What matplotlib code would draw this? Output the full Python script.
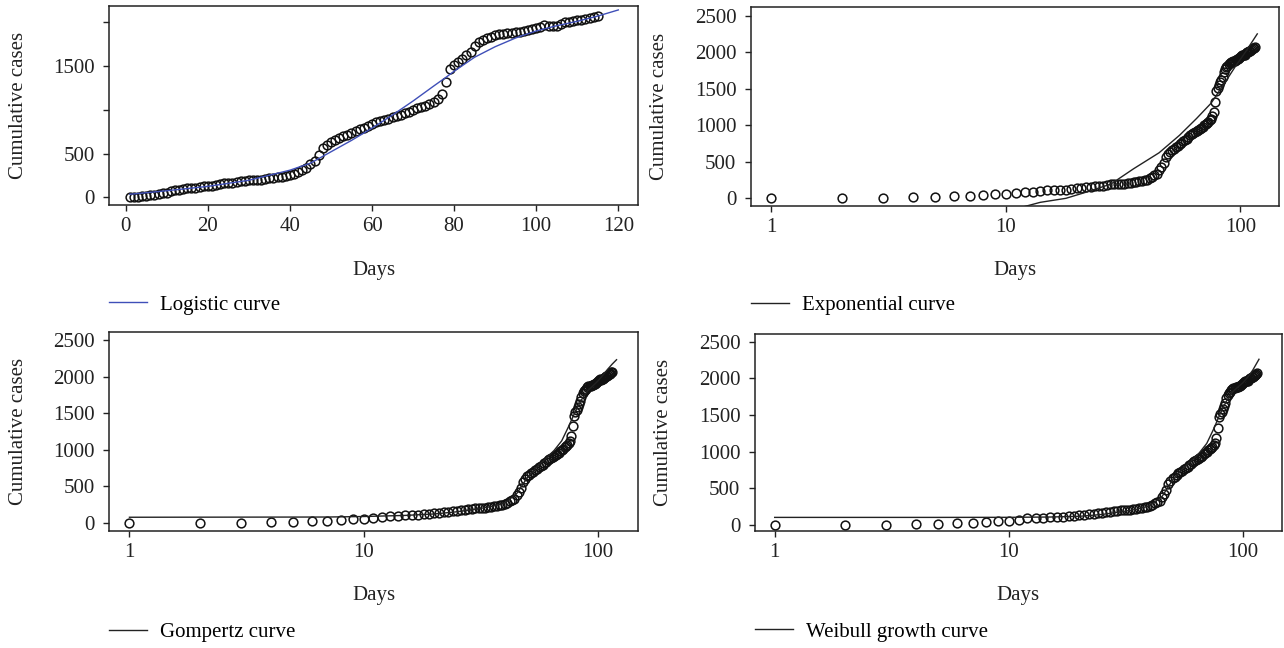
import matplotlib
matplotlib.use("Agg")
import matplotlib.pyplot as plt
from matplotlib.ticker import NullLocator

plt.rcParams['font.family'] = ['Liberation Serif', 'DejaVu Serif']

# ---------------- data ----------------
days = list(range(1, 116))
cases = [0, 0, 0, 14, 15, 23, 25, 37, 48, 50,
         70, 85, 87, 95, 105, 108, 110, 115, 125, 130,
         135, 145, 150, 158, 162, 168, 178, 188, 192, 195,
         197, 198, 203, 212, 218, 224, 230, 236, 244, 252,
         272, 292, 312, 330, 380, 420, 480, 560, 600, 635,
         655, 675, 700, 715, 735, 760, 775, 790, 815, 835,
         860, 875, 885, 900, 915, 930, 945, 960, 980, 1000,
         1015, 1030, 1045, 1065, 1085, 1120, 1180, 1320, 1465, 1510,
         1545, 1585, 1620, 1665, 1725, 1770, 1800, 1815, 1835, 1855,
         1865, 1870, 1875, 1880, 1885, 1893, 1900, 1910, 1925, 1935,
         1950, 1965, 1958, 1960, 1962, 1985, 2000, 2005, 2012, 2020,
         2030, 2040, 2050, 2058, 2066]

logistic_x = [1, 10, 20, 30, 40, 45, 50, 55, 60, 65, 70, 75, 78, 80, 85, 90, 95, 100, 105, 110, 115, 120]
logistic_y = [35, 75, 125, 195, 310, 390, 520, 650, 790, 940, 1100, 1270, 1370, 1440, 1600, 1720, 1820, 1900, 1960, 2010, 2070, 2140]

expo_x = [11, 14, 18, 22, 28, 35, 45, 55, 65, 75, 85, 95, 105, 118]
expo_y = [-150, -60, -5, 80, 190, 400, 620, 860, 1090, 1300, 1560, 1800, 2000, 2250]

gomp_x = [1, 7, 10, 15, 20, 25, 30, 35, 40, 45, 50, 55, 60, 65, 70, 75, 80, 85, 90, 95, 100, 105, 110, 115, 120]
gomp_y = [75, 78, 85, 100, 120, 150, 185, 220, 270, 400, 620, 770, 880, 990, 1120, 1320, 1520, 1680, 1800, 1870, 1940, 2020, 2100, 2170, 2230]

weib_x = [1, 5, 10, 15, 20, 25, 30, 35, 40, 45, 50, 55, 60, 65, 70, 75, 80, 85, 90, 95, 100, 105, 110, 117]
weib_y = [100, 100, 101, 105, 115, 140, 175, 210, 260, 380, 610, 760, 870, 980, 1110, 1310, 1520, 1690, 1810, 1880, 1940, 2020, 2110, 2260]

legend_labels = ["Logistic curve", "Exponential curve", "Gompertz curve", "Weibull growth curve"]
lin_xticks = [0, 20, 40, 60, 80, 100, 120]
lin_yticks = [0, 500, 1000, 1500, 2000]
lin_yticklabels = ["0", "500", "", "1500", ""]
log_xticks = [1, 10, 100]
log_yticks = [0, 500, 1000, 1500, 2000, 2500]

FS = 15
W, H = 1284, 648

def rect(l, r, t, b):
    return [l / W, 1 - b / H, (r - l) / W, (b - t) / H]

fig = plt.figure(figsize=(12.84, 6.48), dpi=100)
ax1 = fig.add_axes(rect(109.4, 637.6, 6, 205.3))
ax2 = fig.add_axes(rect(751, 1278.6, 6.7, 206))
ax3 = fig.add_axes(rect(109.4, 637.6, 332.3, 530.7))
ax4 = fig.add_axes(rect(755, 1281.5, 334, 531.3))

def style(ax):
    for s in ax.spines.values():
        s.set_linewidth(1.1)
        s.set_color('#222222')
    ax.tick_params(axis='both', direction='out', length=4.5, width=1.0,
                   labelsize=FS, colors='#222222')
    ax.tick_params(axis='x', pad=4)
    ax.tick_params(axis='y', pad=6)
    ax.text(-0.173, 0.5, "Cumulative cases", rotation=90, ha='center', va='center',
            fontsize=FS, color='#222222', transform=ax.transAxes)
    ax.text(0.5, -0.325, "Days", ha='center', va='center', fontsize=FS,
            color='#222222', transform=ax.transAxes)

mk = dict(marker='o', linestyle='none', mfc='none', mec='#111111', ms=6.3, mew=1.1)

# panel 1: logistic (linear x)
ax1.plot(days, cases, **mk)
l1, = ax1.plot(logistic_x, logistic_y, color='#3f4fb8', lw=1.0)
ax1.set_xlim(-3.97, 124.7)
ax1.set_ylim(-91, 2185)
ax1.set_xticks(lin_xticks)
ax1.set_yticks(lin_yticks)
ax1.set_yticklabels(lin_yticklabels)
style(ax1)

# log panels
def log_panel(ax, cx, cy, xlim, ylim):
    ax.plot(days, cases, **mk)
    ln, = ax.plot(cx, cy, color='#222222', lw=1.0)
    ax.set_xscale('log')
    ax.set_xlim(*xlim)
    ax.set_ylim(*ylim)
    ax.set_xticks(log_xticks)
    ax.set_xticklabels([str(v) for v in log_xticks])
    ax.xaxis.set_minor_locator(NullLocator())
    ax.set_yticks(log_yticks)
    style(ax)
    return ln

l2 = log_panel(ax2, expo_x, expo_y, (0.818, 145.5), (-110, 2623))
l3 = log_panel(ax3, gomp_x, gomp_y, (0.821, 147.6), (-109, 2605))
l4 = log_panel(ax4, weib_x, weib_y, (0.824, 146), (-90, 2605))

for ax, ln, lab, yc in [(ax1, l1, legend_labels[0], -0.50), (ax2, l2, legend_labels[1], -0.497),
                        (ax3, l3, legend_labels[2], -0.511), (ax4, l4, legend_labels[3], -0.51)]:
    ax.legend([ln], [lab], loc='center left', bbox_to_anchor=(0.0, yc), frameon=False,
              fontsize=FS, handlelength=1.8, handletextpad=0.65, borderpad=0,
              borderaxespad=0)

fig.savefig("out.png", dpi=100)
